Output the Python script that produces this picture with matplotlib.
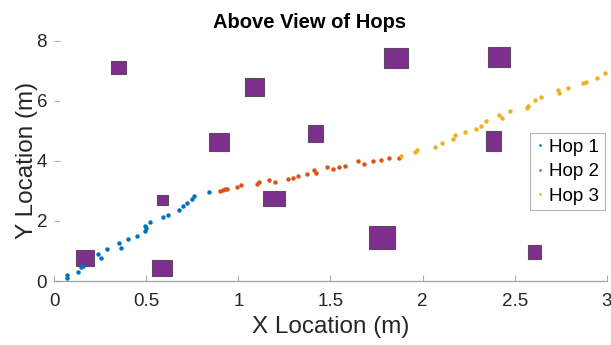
import matplotlib
matplotlib.use("Agg")
import matplotlib.pyplot as plt
from matplotlib.patches import Rectangle

plt.rcParams['font.family'] = ['Liberation Sans', 'DejaVu Sans']

# Hop 1 path points
hop1_x = [0.069, 0.072, 0.132, 0.146, 0.159, 0.240, 0.254, 0.285, 0.352, 0.361,
          0.401, 0.451, 0.491, 0.496, 0.500, 0.520, 0.592, 0.621, 0.680, 0.700,
          0.724, 0.749, 0.760, 0.843]
hop1_y = [0.09, 0.21, 0.29, 0.45, 0.51, 0.89, 0.76, 1.06, 1.26, 1.11,
          1.39, 1.49, 1.65, 1.83, 1.76, 1.96, 2.12, 2.21, 2.38, 2.51,
          2.59, 2.73, 2.82, 2.95]

# Hop 2 path points
hop2_x = [0.901, 0.919, 0.929, 0.940, 0.994, 1.016, 1.103, 1.112, 1.164, 1.200,
          1.269, 1.294, 1.326, 1.373, 1.409, 1.420, 1.480, 1.512, 1.548, 1.577,
          1.650, 1.680, 1.729, 1.774, 1.815, 1.873]
hop2_y = [2.98, 3.04, 3.06, 3.06, 3.13, 3.20, 3.24, 3.28, 3.37, 3.28,
          3.40, 3.44, 3.51, 3.57, 3.68, 3.61, 3.80, 3.73, 3.78, 3.83,
          3.98, 3.89, 4.01, 4.03, 4.08, 4.10]

# Hop 3 path points
hop3_x = [1.882, 1.958, 1.967, 2.065, 2.104, 2.162, 2.175, 2.231, 2.292, 2.316,
          2.341, 2.415, 2.433, 2.476, 2.566, 2.570, 2.611, 2.642, 2.733, 2.741,
          2.790, 2.871, 2.886, 2.944, 2.990]
hop3_y = [4.17, 4.28, 4.36, 4.46, 4.58, 4.74, 4.85, 4.95, 5.07, 5.17,
          5.32, 5.52, 5.43, 5.65, 5.75, 5.84, 6.01, 6.14, 6.37, 6.26,
          6.44, 6.58, 6.64, 6.77, 6.92]

# Obstacles: left, bottom, width, height (m)
obs_left   = [0.119, 0.309, 1.034, 0.843, 1.379, 0.558, 1.132, 0.532, 1.792, 2.357, 2.343, 1.711, 2.570]
obs_bottom = [0.49, 6.88, 6.15, 4.34, 4.63, 2.54, 2.51, 0.18, 7.10, 7.12, 4.33, 1.08, 0.73]
obs_width  = [0.098, 0.083, 0.107, 0.104, 0.083, 0.060, 0.120, 0.108, 0.126, 0.116, 0.081, 0.137, 0.074]
obs_height = [0.53, 0.44, 0.62, 0.58, 0.55, 0.32, 0.50, 0.51, 0.66, 0.68, 0.66, 0.75, 0.46]

x_ticks = [0, 0.5, 1, 1.5, 2, 2.5, 3]
x_tick_labels = ['0', '0.5', '1', '1.5', '2', '2.5', '3']
y_ticks = [0, 2, 4, 6, 8]

W, H = 611, 345
fig = plt.figure(figsize=(W / 100, H / 100), dpi=100)
ax = fig.add_axes([54 / W, (H - 281) / H, (607 - 54) / W, (281 - 40.7) / H])

for l, b, w, h in zip(obs_left, obs_bottom, obs_width, obs_height):
    ax.add_patch(Rectangle((l, b), w, h, facecolor='#7E2F8E', edgecolor='#5b4a5e',
                           linewidth=0.8, zorder=2))

ms = 3.2
ax.plot(hop1_x, hop1_y, 'o', color='#0072BD', markersize=ms, markeredgewidth=0, label='Hop 1', zorder=3)
ax.plot(hop2_x, hop2_y, 'o', color='#D95319', markersize=ms, markeredgewidth=0, label='Hop 2', zorder=3)
ax.plot(hop3_x, hop3_y, 'o', color='#EDB120', markersize=ms, markeredgewidth=0, label='Hop 3', zorder=3)

ax.set_xlim(0, 3)
ax.set_ylim(0, 8)
ax.set_xticks(x_ticks)
ax.set_xticklabels(x_tick_labels)
ax.set_yticks(y_ticks)

for s in ['top', 'right', 'left']:
    ax.spines[s].set_visible(False)
ax.spines['bottom'].set_color('#a0a0a0')
ax.spines['bottom'].set_linewidth(0.9)
ax.tick_params(direction='in', length=4, width=0.8, color='#b0b0b0',
               labelsize=13.5, labelcolor='#262626')
ax.tick_params(axis='x', pad=9)
ax.tick_params(axis='y', pad=5)

ax.set_title('Above View of Hops', fontsize=14.5, fontweight='bold',
             x=(310 - 54) / (607 - 54), pad=9)
ax.set_xlabel('X Location (m)', fontsize=17.5, color='#262626')
ax.xaxis.set_label_coords(0.5, (281 - 316.4) / (281 - 40.7))
ax.set_ylabel('Y Location (m)', fontsize=17.5, color='#262626')
ax.yaxis.set_label_coords((38 - 54) / (607 - 54), 0.5)

leg = ax.legend(loc='upper left', bbox_to_anchor=((530 - 54) / 553, (281 - 133.3) / 240.3),
                borderaxespad=0, fontsize=13.5, frameon=True, fancybox=False,
                handlelength=0.46, handletextpad=0.25, markerscale=0.6,
                labelspacing=0.38, borderpad=0.3)
leg.get_frame().set_edgecolor('#a0a0a0')
leg.get_frame().set_linewidth(0.8)

fig.savefig('out.png', dpi=100)
